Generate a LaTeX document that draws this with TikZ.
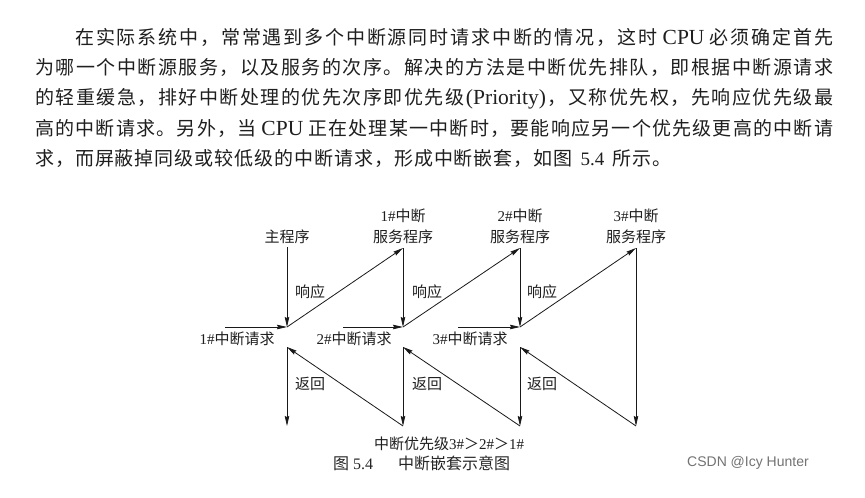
\documentclass[tikz,border=0pt]{standalone}
\usepackage{fontspec}
\setmainfont{Liberation Serif}
\newfontfamily\cjk{Noto Sans CJK SC}
\newfontfamily\wmfont{Liberation Sans}
\usetikzlibrary{arrows.meta}
\newcommand\zh[1]{{\cjk #1}}
% spread every token of a line with stretchable glue
\def\spreadzh#1{\ifx\relax#1\else{#1}\hskip 0pt plus 1pt\relax\expandafter\spreadzh\fi}
\newcommand\lat[1]{{\fontsize{21.5}{21.5}\selectfont\rmfamily\,#1\,}}
\newcommand\latb[1]{{\fontsize{21.5}{21.5}\selectfont\rmfamily #1}}
\tikzset{
  conn/.style={draw=black!90, line width=0.8pt},
  arr/.style={conn, -{Stealth[length=10pt,width=4.5pt,inset=1pt]}},
  para/.style={anchor=base west, inner sep=0pt, text=black!88, font=\fontsize{19}{19}\selectfont\cjk},
  lbl/.style={inner sep=0pt, text=black!88, font=\fontsize{15}{21}\selectfont, align=center},
}
\begin{document}
\begin{tikzpicture}[x=1pt,y=-1pt]
\useasboundingbox[fill=white] (0,0) rectangle (865,498);

% paragraph
\node[para] (p1) at (75,44) {\hbox to 758pt{\spreadzh 在实际系统中，常常遇到多个中断源同时请求中断的情况，这时{\lat{CPU}}必须确定首先\relax\unskip}};
\node[para] (p2) at (35,74) {\hbox to 798pt{\spreadzh 为哪一个中断源服务，以及服务的次序。解决的方法是中断优先排队，即根据中断源请求\relax\unskip}};
\node[para] (p3) at (35,104) {\hbox to 798pt{\spreadzh 的轻重缓急，排好中断处理的优先次序即优先级{\latb{(Priority)}}，又称优先权，先响应优先级最\relax\unskip}};
\node[para] (p4) at (35,135) {\hbox to 798pt{\spreadzh 高的中断请求。另外，当{\lat{CPU}}正在处理某一中断时，要能响应另一个优先级更高的中断请\relax\unskip}};
\node[para] (p5) at (35,165) {\hbox to 636pt{\spreadzh 求，而屏蔽掉同级或较低级的中断请求，形成中断嵌套，如图{{\fontsize{19}{19}\selectfont\rmfamily\ 5.4\ }}所示。\relax\unskip}};

% diagram points
\coordinate (m0) at (287,247);
\coordinate (j1) at (287,327);
\coordinate (t1) at (403,248);
\coordinate (j2) at (403,327);
\coordinate (t2) at (520,248);
\coordinate (j3) at (520,327);
\coordinate (t3) at (636,248);
\coordinate (b3) at (636,426);
\coordinate (u2) at (520,347);
\coordinate (b2) at (520,426);
\coordinate (u1) at (403,347);
\coordinate (b1) at (403,426);
\coordinate (u0) at (287,347);
\coordinate (b0) at (287,426);
\coordinate (r1) at (225,327);
\coordinate (r2) at (343,327);
\coordinate (r3) at (458,327);

% connectors
\draw[arr] (m0) -- (j1);
\draw[arr] (r1) -- (j1);
\draw[arr] (j1) -- (t1);
\draw[arr] (t1) -- (j2);
\draw[arr] (r2) -- (j2);
\draw[arr] (j2) -- (t2);
\draw[arr] (t2) -- (j3);
\draw[arr] (r3) -- (j3);
\draw[arr] (j3) -- (t3);
\draw[arr] (t3) -- (b3);
\draw[arr] (b3) -- (u2);
\draw[arr] (u2) -- (b2);
\draw[arr] (b2) -- (u1);
\draw[arr] (u1) -- (b1);
\draw[arr] (b1) -- (u0);
\draw[arr] (u0) -- (b0);

% labels
\node[lbl] (lmain) at (287,237) {\zh{主程序}};
\node[lbl] (ls1) at (403,226.5) {1\#\zh{中断}\\\zh{服务程序}};
\node[lbl] (ls2) at (520,226.5) {2\#\zh{中断}\\\zh{服务程序}};
\node[lbl] (ls3) at (636,226.5) {3\#\zh{中断}\\\zh{服务程序}};
\node[lbl] (lr1) at (237,339) {1\#\zh{中断请求}};
\node[lbl] (lr2) at (354,339) {2\#\zh{中断请求}};
\node[lbl] (lr3) at (470,339) {3\#\zh{中断请求}};
\node[lbl] (la1) at (310,292) {\zh{响应}};
\node[lbl] (la2) at (427,292) {\zh{响应}};
\node[lbl] (la3) at (542,292) {\zh{响应}};
\node[lbl] (lb1) at (310,384) {\zh{返回}};
\node[lbl] (lb2) at (427,384) {\zh{返回}};
\node[lbl] (lb3) at (542,384) {\zh{返回}};
\node[lbl] (lprio) at (449,444) {\zh{中断优先级}3\#\zh{＞}2\#\zh{＞}1\#};

% caption and watermark
\node[anchor=west, inner sep=0pt, text=black!85, font=\fontsize{16}{16}\selectfont] (cap) at (333,463) {\hbox to 177pt{\zh{图} 5.4\hfill\zh{中断嵌套示意图}}};
\node[anchor=west, inner sep=0pt, text=black!55, font=\fontsize{14}{14}\selectfont\wmfont] (wm) at (687,463) {CSDN @Icy Hunter};
\end{tikzpicture}
\end{document}
